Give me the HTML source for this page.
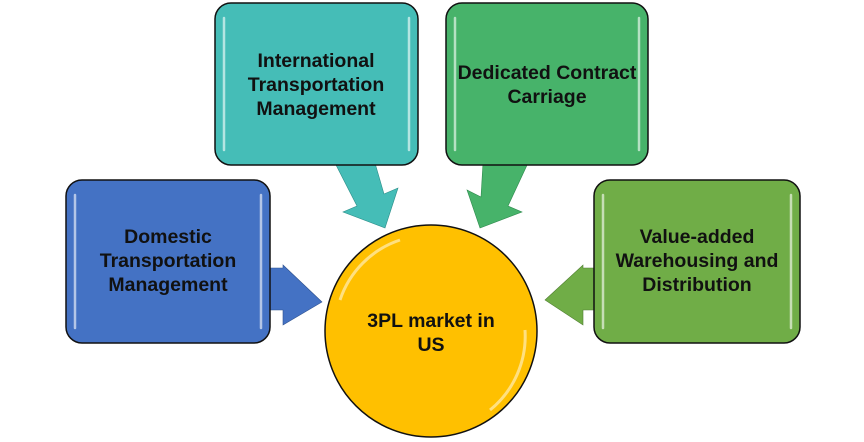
<!DOCTYPE html>
<html><head><style>
body{margin:0;background:#fff;}
svg{display:block;}
text{font-family:"Liberation Sans",Arial,sans-serif;font-weight:bold;font-size:19.5px;fill:#111;text-anchor:middle;}
</style></head><body>
<svg width="864" height="442" viewBox="0 0 864 442">
<!-- arrows -->
<polygon points="335,163 375,163 384,194 398,188 385,228 343,212 357,206" fill="#45BDB7" stroke="#2c8d88" stroke-width="0.6"/>
<polygon points="483,163 528,163 508,206 522,212 480,228 467,190 481,197" fill="#47B36A" stroke="#2f8a4d" stroke-width="0.6"/>
<polygon points="268,268 283,268 283,265 322,302 283,325 283,310 268,310" fill="#4472C4" stroke="#2f528f" stroke-width="0.6"/>
<polygon points="598,268 583,268 583,265 545,300 583,325 583,310 598,310" fill="#70AD47" stroke="#507e32" stroke-width="0.6"/>
<!-- boxes -->
<rect x="215" y="3" width="203" height="162" rx="16" fill="#45BDB7" stroke="#111" stroke-width="1.5"/>
<rect x="446" y="3" width="202" height="162" rx="16" fill="#47B36A" stroke="#111" stroke-width="1.5"/>
<rect x="66" y="180" width="204" height="163" rx="16" fill="#4472C4" stroke="#111" stroke-width="1.5"/>
<rect x="594" y="180" width="206" height="163" rx="16" fill="#70AD47" stroke="#111" stroke-width="1.5"/>
<g stroke="#fff" stroke-opacity=".6" stroke-width="2.5" stroke-linecap="round">
<line x1="224" y1="18" x2="224" y2="150"/><line x1="409" y1="18" x2="409" y2="150"/>
<line x1="455" y1="18" x2="455" y2="150"/><line x1="639" y1="18" x2="639" y2="150"/>
<line x1="75" y1="195" x2="75" y2="328"/><line x1="261" y1="195" x2="261" y2="328"/>
<line x1="603" y1="195" x2="603" y2="328"/><line x1="791" y1="195" x2="791" y2="328"/>
</g>
<!-- circle -->
<circle cx="431" cy="331" r="106" fill="#FFC000" stroke="#111" stroke-width="1.5"/>
<path d="M340,300 A95,95 0 0 1 400,240" fill="none" stroke="#fff" stroke-opacity=".5" stroke-width="3"/>
<path d="M525,330 A95,95 0 0 1 490,410" fill="none" stroke="#fff" stroke-opacity=".5" stroke-width="3"/>
<!-- labels -->
<text x="316" y="67">International</text>
<text x="316" y="91">Transportation</text>
<text x="316" y="115">Management</text>
<text x="547" y="79">Dedicated Contract</text>
<text x="547" y="103">Carriage</text>
<text x="168" y="243">Domestic</text>
<text x="168" y="267">Transportation</text>
<text x="168" y="291">Management</text>
<text x="697" y="243">Value-added</text>
<text x="697" y="267">Warehousing and</text>
<text x="697" y="291">Distribution</text>
<text x="431" y="327">3PL market in</text>
<text x="431" y="351">US</text>
</svg>
</body></html>
